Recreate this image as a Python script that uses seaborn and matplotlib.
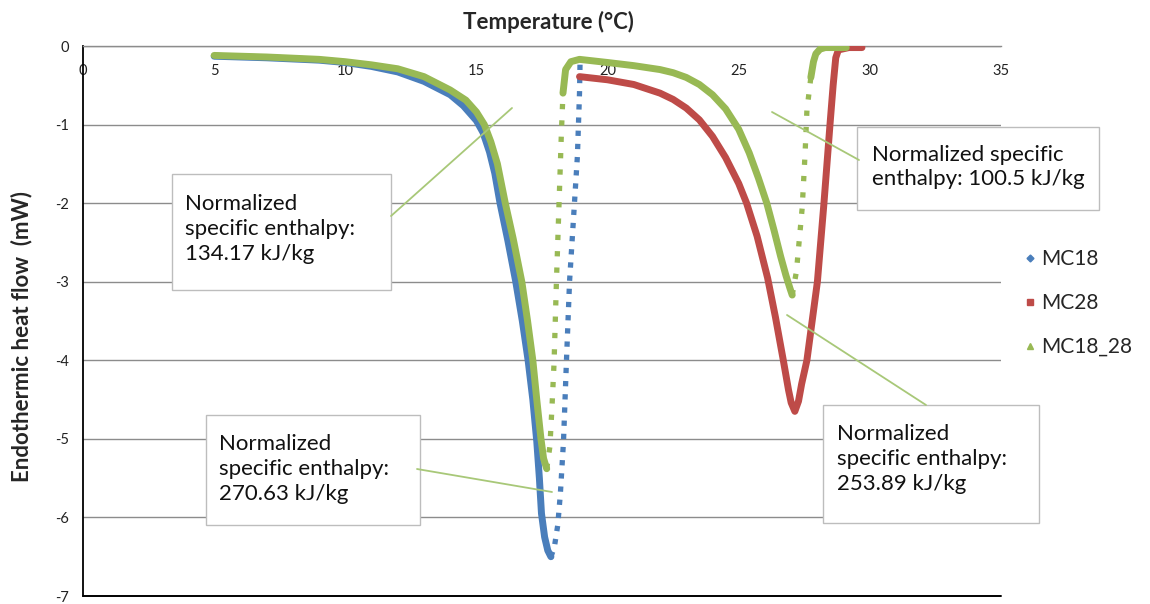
import matplotlib
matplotlib.use("Agg")
import matplotlib.pyplot as plt
from matplotlib.lines import Line2D
from matplotlib.patches import Rectangle
import seaborn as sns

# ---------------- data ----------------
series_names = ["MC18", "MC28", "MC18_28"]

# MC18: dense melting branch and sparse return branch
mc18_melt_T = [5, 7, 9, 10, 11, 12, 13, 14, 14.5, 15, 15.25, 15.5, 15.7, 15.9, 16.2,
               16.5, 16.75, 16.97, 17.15, 17.3, 17.4, 17.48, 17.6, 17.72, 17.84]
mc18_melt_hf = [-0.13, -0.15, -0.18, -0.21, -0.26, -0.33, -0.45, -0.62, -0.76, -0.95,
                -1.1, -1.35, -1.62, -2.0, -2.48, -3.0, -3.5, -4.0, -4.5, -5.03, -5.5,
                -5.95, -6.25, -6.42, -6.5]
mc18_rise_T = [17.84, 17.97, 18.1, 18.2, 18.32, 18.43, 18.55, 18.7, 18.85, 18.93, 18.95]
mc18_rise_hf = [-6.5, -6.38, -6.1, -5.7, -5.03, -4.03, -3.0, -2.2, -1.4, -0.6, -0.22]

# MC28
mc28_T = [18.93, 20, 21, 22, 22.5, 23, 23.5, 24, 24.5, 25.0, 25.3, 25.7, 26.1, 26.4,
          26.7, 26.9, 27.0, 27.14, 27.28, 27.4, 27.6, 27.8, 28.0, 28.25, 28.48, 28.6,
          28.7, 28.8, 29.2, 29.7]
mc28_hf = [-0.39, -0.43, -0.49, -0.6, -0.68, -0.79, -0.94, -1.15, -1.42, -1.75, -2.0,
           -2.42, -2.95, -3.45, -4.0, -4.38, -4.54, -4.65, -4.52, -4.3, -4.0, -3.5, -3.0,
           -2.0, -1.0, -0.5, -0.15, -0.05, -0.02, -0.02]

# MC18_28: first melt, first return, second melt, second return, final plateau
mc1828_melt1_T = [5, 7, 9, 10, 11, 12, 13, 14, 14.6, 15.0, 15.3, 15.55, 15.8, 16.1,
                  16.4, 16.73, 16.95, 17.15, 17.3, 17.46, 17.56, 17.68]
mc1828_melt1_hf = [-0.12, -0.14, -0.17, -0.2, -0.24, -0.29, -0.39, -0.56, -0.69, -0.84,
                   -1.0, -1.22, -1.5, -2.0, -2.45, -3.0, -3.5, -4.0, -4.5, -5.0, -5.25,
                   -5.38]
mc1828_rise1_T = [17.68, 17.8, 17.88, 17.96, 18.05, 18.15, 18.24, 18.3]
mc1828_rise1_hf = [-5.38, -5.1, -4.6, -4.03, -3.0, -2.0, -1.1, -0.6]
mc1828_melt2_T = [18.3, 18.4, 18.6, 18.93, 20, 21, 22, 22.5, 23, 23.5, 24, 24.5, 25.0,
                  25.4, 25.75, 26.07, 26.35, 26.6, 26.8, 26.95, 27.04]
mc1828_melt2_hf = [-0.6, -0.3, -0.2, -0.17, -0.21, -0.25, -0.3, -0.34, -0.4, -0.49,
                   -0.62, -0.8, -1.06, -1.36, -1.68, -2.0, -2.35, -2.68, -2.92, -3.08,
                   -3.17]
mc1828_rise2_T = [27.04, 27.2, 27.42, 27.53, 27.6, 27.75]
mc1828_rise2_hf = [-3.17, -2.87, -2.06, -1.37, -0.82, -0.4]
mc1828_end_T = [27.75, 27.85, 27.94, 28.1, 28.3, 29.1]
mc1828_end_hf = [-0.4, -0.2, -0.1, -0.04, -0.02, -0.02]

x_ticks = [0, 5, 10, 15, 20, 25, 30, 35]
y_ticks = [0, -1, -2, -3, -4, -5, -6, -7]

enthalpy_texts = [
    "Normalized\nspecific enthalpy:\n134.17 kJ/kg",
    "Normalized specific\nenthalpy: 100.5 kJ/kg",
    "Normalized\nspecific enthalpy:\n270.63 kJ/kg",
    "Normalized\nspecific enthalpy:\n253.89 kJ/kg",
]

# ---------------- style ----------------
BLUE = "#4a7ebb"
RED = "#be4b48"
GREEN = "#98b954"
LEADER = "#a8c878"

sns.set_style("white")
plt.rcParams["font.family"] = ["Lato", "DejaVu Sans"]

W, H = 1150, 604
fig = plt.figure(figsize=(W / 100, H / 100), dpi=100)
ax = fig.add_axes([83 / W, 8 / H, 918 / W, 550 / H])
ax.set_xlim(0, 35)
ax.set_ylim(-7, 0)

dense = dict(sort=False, estimator=None, linewidth=5.0, solid_capstyle="round",
             solid_joinstyle="round", legend=False)
dotted_d = dict(sort=False, estimator=None, linewidth=3.8, legend=False,
                linestyle=(0, (1, 1.5)))
dotted_t = dict(sort=False, estimator=None, linewidth=3.8, legend=False,
                linestyle=(0, (1, 2.1)))

sns.lineplot(x=mc18_melt_T, y=mc18_melt_hf, color=BLUE, ax=ax, zorder=3, **dense)
sns.lineplot(x=mc18_rise_T, y=mc18_rise_hf, color=BLUE, ax=ax, zorder=3, **dotted_d)
sns.lineplot(x=mc28_T, y=mc28_hf, color=RED, ax=ax, zorder=3.1, **dense)
sns.lineplot(x=mc1828_melt1_T, y=mc1828_melt1_hf, color=GREEN, ax=ax, zorder=3.2, **dense)
sns.lineplot(x=mc1828_rise1_T, y=mc1828_rise1_hf, color=GREEN, ax=ax, zorder=3.2, **dotted_t)
sns.lineplot(x=mc1828_melt2_T, y=mc1828_melt2_hf, color=GREEN, ax=ax, zorder=3.2, **dense)
sns.lineplot(x=mc1828_rise2_T, y=mc1828_rise2_hf, color=GREEN, ax=ax, zorder=3.2, **dotted_t)
sns.lineplot(x=mc1828_end_T, y=mc1828_end_hf, color=GREEN, ax=ax, zorder=3.2, **dense)

# axes styling (Excel-like)
ax.set_xticks(x_ticks)
ax.set_xticklabels([str(t) for t in x_ticks])
ax.set_yticks(y_ticks)
ax.set_yticklabels([str(t) for t in y_ticks])
ax.tick_params(axis="x", length=0, pad=13, labelsize=10.5, colors="#222222")
ax.tick_params(axis="y", length=0, pad=10, labelsize=10.5, colors="#222222")
ax.spines["top"].set_visible(False)
ax.spines["right"].set_visible(False)
ax.spines["bottom"].set_position(("data", 0))
ax.spines["bottom"].set_color("#8c8c8c")
ax.spines["bottom"].set_linewidth(1.0)
ax.spines["left"].set_color("black")
ax.spines["left"].set_linewidth(1.3)
ax.yaxis.grid(True, color="#8c8c8c", linewidth=1.0)
ax.xaxis.grid(False)
ax.set_axisbelow(True)
ax.axhline(-7, color="black", linewidth=1.4, clip_on=False, zorder=4)
ax.set_xlabel("")
ax.set_ylabel("")

fig.text(548 / W, 1 - 22 / H, "Temperature (°C)", ha="center", va="center",
         fontsize=16, fontweight="bold")
fig.text(22 / W, 1 - 336 / H, "Endothermic heat flow  (mW)", ha="center", va="center",
         rotation=90, fontsize=16, fontweight="bold")

# legend
handles = [
    Line2D([], [], marker="D", color=BLUE, linestyle="none", markersize=3.5),
    Line2D([], [], marker="s", color=RED, linestyle="none", markersize=5),
    Line2D([], [], marker="^", color=GREEN, linestyle="none", markersize=4.5),
]
ax.legend(handles, series_names, loc="center left", bbox_to_anchor=(1024 / W, 1 - 303 / H),
          bbox_transform=fig.transFigure, frameon=False, fontsize=15, handlelength=0.6,
          handletextpad=0.2, labelspacing=1.15, borderpad=0, borderaxespad=0)

# annotation boxes (pixel layout -> data coords)
inv = ax.transData.inverted()


def pxd(x, y):
    return inv.transform((x, H - y))


boxes = [  # left, top, right, bottom, text-left, text-center-y
    (172, 174, 391, 290, 185, 229),
    (857, 127, 1099, 210, 872, 167),
    (206, 415, 420, 525, 219, 469),
    (823, 405, 1039, 523, 837, 459),
]
leaders = [
    ((391, 216), (512, 108)),
    ((859, 160), (772, 112)),
    ((417, 469), (552, 492)),
    ((926, 405), (787, 315)),
]
for (l, t, r, b, tx, ty), txt in zip(boxes, enthalpy_texts):
    x0, y0 = pxd(l, b)
    x1, y1 = pxd(r, t)
    ax.add_patch(Rectangle((x0, y0), x1 - x0, y1 - y0, facecolor="white",
                           edgecolor="#bdbdbd", linewidth=1.0, zorder=5, clip_on=False))
    ax.text(*pxd(tx, ty), txt, ha="left", va="center", fontsize=16, linespacing=1.3,
            color="#111111", zorder=6, clip_on=False)
for (p0, p1) in leaders:
    ax.annotate("", xy=pxd(*p1), xytext=pxd(*p0),
                arrowprops=dict(arrowstyle="-", color=LEADER, linewidth=1.3,
                                shrinkA=0, shrinkB=0), zorder=7)

fig.savefig("out.png", dpi=100)
